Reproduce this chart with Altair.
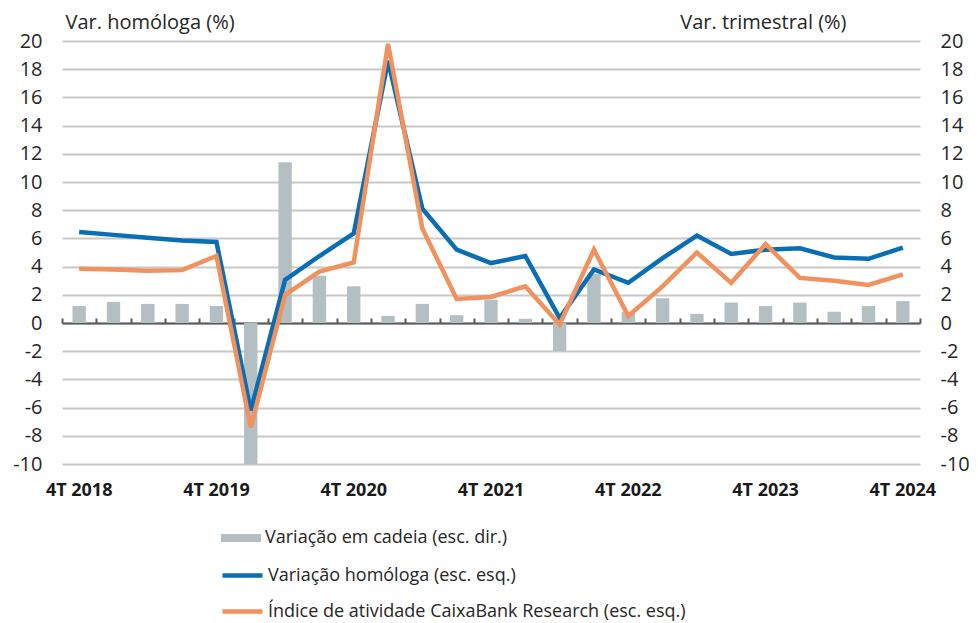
import altair as alt
import pandas as pd

categories = ["4T 2018", "1T 2019", "2T 2019", "3T 2019", "4T 2019", "1T 2020", "2T 2020",
              "3T 2020", "4T 2020", "1T 2021", "2T 2021", "3T 2021", "4T 2021", "1T 2022",
              "2T 2022", "3T 2022", "4T 2022", "1T 2023", "2T 2023", "3T 2023", "4T 2023",
              "1T 2024", "2T 2024", "3T 2024", "4T 2024"]
label_values = ["4T 2018", "4T 2019", "4T 2020", "4T 2021", "4T 2022", "4T 2023", "4T 2024"]

qoq = [1.2, 1.5, 1.35, 1.35, 1.2, -10.0, 11.4, 3.35, 2.6, 0.5, 1.35, 0.55, 1.65, 0.3,
       -2.0, 3.5, 0.8, 1.75, 0.65, 1.45, 1.2, 1.45, 0.8, 1.2, 1.55]
yoy = [6.45, 6.25, 6.05, 5.85, 5.75, -6.2, 3.05, 4.75, 6.35, 18.6, 8.1, 5.2, 4.25, 4.75,
       0.35, 3.8, 2.85, 4.6, 6.2, 4.9, 5.2, 5.3, 4.65, 4.55, 5.35]
index_cbr = [3.85, 3.8, 3.7, 3.75, 4.75, -7.4, 2.0, 3.65, 4.3, 19.8, 6.7, 1.7, 1.85, 2.6,
             -0.1, 5.2, 0.5, 2.6, 5.0, 2.85, 5.6, 3.2, 3.0, 2.7, 3.45]

name_bar = "Variação em cadeia (esc. dir.)"
name_yoy = "Variação homóloga (esc. esq.)"
name_idx = "Índice de atividade CaixaBank Research (esc. esq.)"

c_bar, c_yoy, c_idx = "#b4bfc4", "#0a6eb4", "#f0915e"
FONT = "Open Sans"
TXT = "#262626"
FS = 20
LFS = 18
GRID_VALUES = list(range(-10, 21, 2))
HYPHEN_LABEL = "'' + datum.value"

df = pd.DataFrame({
    "cat": categories * 3,
    "value": qoq + yoy + index_cbr,
    "series": [name_bar] * 25 + [name_yoy] * 25 + [name_idx] * 25,
})

x_scale = alt.Scale(domain=categories, paddingInner=0, paddingOuter=0)
y_scale = alt.Scale(domain=[-10, 20], nice=False, zero=False)

base = alt.Chart(df)

bars = base.transform_filter(alt.datum.series == name_bar).mark_bar(
    width=alt.RelativeBandSize(0.39)
).encode(
    x=alt.X("cat:N", sort=categories, scale=x_scale, axis=alt.Axis(
        orient="bottom", values=label_values, labelAngle=0, labelFont=FONT,
        labelFontSize=18, labelFontWeight="bold", labelColor="#1a1a1a",
        labelPadding=17, domain=False, ticks=False, grid=False, title=None)),
    y=alt.Y("value:Q", scale=y_scale, axis=alt.Axis(
        orient="right", values=GRID_VALUES, grid=False, domain=False, ticks=False,
        labelExpr=HYPHEN_LABEL,
        labelFont=FONT, labelFontSize=FS, labelColor=TXT, labelPadding=20,
        title="Var. trimestral (%)", titleAngle=0, titleAlign="right",
        titleBaseline="alphabetic", titleX=-74, titleY=-13, titleFont=FONT,
        titleFontSize=FS, titleFontWeight="normal", titleColor=TXT)),
    fill=alt.Fill("series:N", scale=alt.Scale(domain=[name_bar], range=[c_bar]),
                  legend=alt.Legend(title=None, orient="none", legendX=158, legendY=476,
                                    symbolType="M-1,-0.2H1V0.2H-1Z", symbolSize=1600,
                                    labelFont=FONT, labelFontSize=LFS, labelColor=TXT,
                                    labelOffset=3, labelLimit=0, padding=0)),
)

stroke_scale = alt.Scale(domain=[name_yoy, name_idx], range=[c_yoy, c_idx])
stroke_legend = alt.Legend(title=None, orient="none", legendX=158, legendY=512,
                           direction="vertical", symbolType="stroke", symbolSize=1600,
                           symbolStrokeWidth=4.5, labelFont=FONT, labelFontSize=LFS,
                           labelColor=TXT, labelOffset=3, labelLimit=0, rowPadding=4,
                           padding=0)

line_yoy = base.transform_filter(alt.datum.series == name_yoy).mark_line(
    strokeWidth=4.5
).encode(
    x=alt.X("cat:N", sort=categories, scale=x_scale, axis=None),
    y=alt.Y("value:Q", scale=y_scale, axis=alt.Axis(
        orient="left", values=GRID_VALUES, grid=True, gridColor="#c8c8c8", gridWidth=2,
        domain=False, ticks=False, labelExpr=HYPHEN_LABEL,
        labelFont=FONT, labelFontSize=FS, labelColor=TXT,
        labelPadding=20, title="Var. homóloga (%)", titleAngle=0, titleAlign="left",
        titleBaseline="alphabetic", titleX=3, titleY=-13, titleFont=FONT,
        titleFontSize=FS, titleFontWeight="normal", titleColor=TXT)),
    stroke=alt.Stroke("series:N", scale=stroke_scale, legend=stroke_legend),
)

line_idx = base.transform_filter(alt.datum.series == name_idx).mark_line(
    strokeWidth=4.5
).encode(
    x=alt.X("cat:N", sort=categories, scale=x_scale, axis=alt.Axis(
        orient="top", offset=-282, domain=True, domainColor="#595959", domainWidth=2,
        ticks=True, tickColor="#595959", tickWidth=2, tickSize=5, tickBand="extent",
        labels=False, grid=False, title=None)),
    y=alt.Y("value:Q", scale=y_scale, axis=None),
    stroke=alt.Stroke("series:N", scale=stroke_scale, legend=stroke_legend),
)

chart = alt.layer(bars, line_yoy, line_idx).resolve_axis(
    x="independent", y="independent"
).properties(
    width=858, height=423,
    autosize=alt.AutoSizeParams(type="none"),
    padding={"left": 54, "top": 33, "right": 50, "bottom": 159},
).configure_view(stroke=None)

chart.save("out.html", embed_options={"renderer": "svg", "actions": False})
